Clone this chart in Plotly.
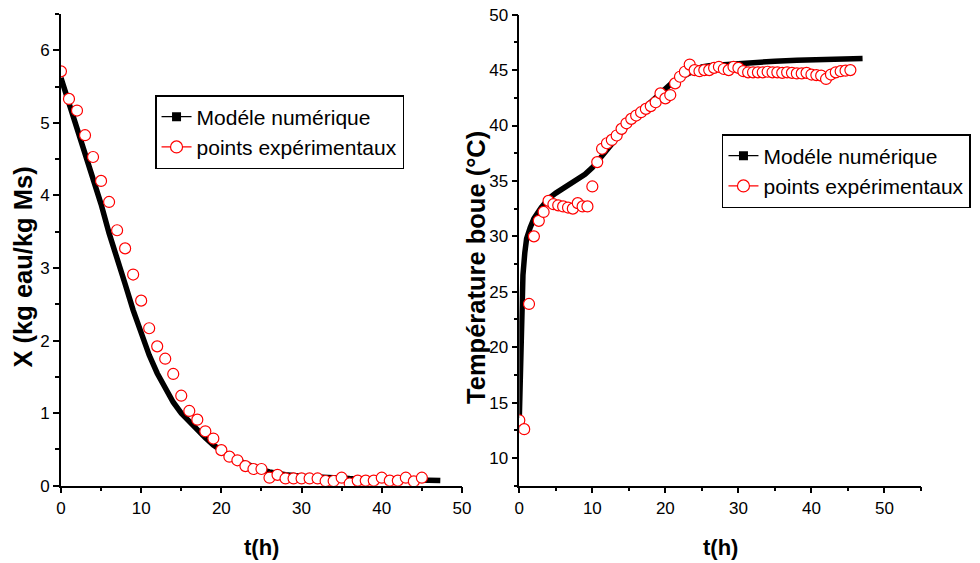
import plotly.graph_objects as go

# ---------------- data ----------------
# Left panel: moisture content X (kg eau / kg Ms) vs t (h)
t_model_X = [0, 1, 2, 3, 4, 5, 6, 7, 8, 9, 10, 11, 12, 13, 14, 15, 16, 17, 18, 19,
             20, 21, 22, 23, 24, 25, 26, 28, 30, 33, 36, 40, 44, 47.3]
X_model = [5.62, 5.28, 4.93, 4.58, 4.24, 3.88, 3.48, 3.10, 2.78, 2.42, 2.08, 1.80, 1.55,
           1.33, 1.15, 1.00, 0.88, 0.76, 0.66, 0.56, 0.48, 0.41, 0.35, 0.30, 0.26, 0.22,
           0.19, 0.15, 0.13, 0.11, 0.10, 0.09, 0.08, 0.07]

t_exp_X = [0, 1, 2, 3, 4, 5, 6, 7, 8, 9, 10, 11, 12, 13, 14, 15, 16, 17, 18, 19, 20, 21,
           22, 23, 24, 25, 26, 27, 28, 29, 30, 31, 32, 33, 34, 35, 36, 37, 38, 39, 40, 41,
           42, 43, 44, 45]
X_exp = [5.71, 5.33, 5.17, 4.83, 4.53, 4.20, 3.91, 3.52, 3.27, 2.91, 2.55, 2.17, 1.92,
         1.75, 1.54, 1.24, 1.03, 0.91, 0.75, 0.65, 0.49, 0.40, 0.35, 0.27, 0.23, 0.23,
         0.11, 0.15, 0.10, 0.10, 0.10, 0.10, 0.10, 0.065, 0.065, 0.11, 0.03, 0.07, 0.07,
         0.07, 0.11, 0.07, 0.07, 0.11, 0.06, 0.11]

# Right panel: mud temperature (°C) vs t (h)
t_model_T = [0, 0.1, 0.2, 0.35, 0.5, 0.75, 1.0, 1.5, 2, 3, 4, 5, 6, 7, 8, 9, 10, 11, 12,
             13, 14, 15, 16, 17, 18, 19, 20, 21, 22, 23, 24, 25, 26, 28, 30, 32, 35, 38,
             40, 43, 47]
T_model = [13.6, 17.0, 20.0, 24.0, 26.5, 28.5, 29.8, 30.8, 31.6, 32.6, 33.4, 33.9, 34.3,
           34.7, 35.1, 35.6, 36.2, 37.0, 37.9, 38.7, 39.5, 40.2, 40.9, 41.5, 42.1, 42.8,
           43.4, 43.9, 44.3, 44.6, 45.0, 45.3, 45.4, 45.5, 45.65, 45.75, 45.8, 45.9,
           45.95, 46.0, 46.05]

t_exp_T = [0, 0.67, 1.33, 2.0, 2.67, 3.33, 4.0, 4.67, 5.33, 6.0, 6.67, 7.33, 8.0, 8.67,
           9.33, 10.0, 10.67, 11.33, 12.0, 12.67, 13.33, 14.0, 14.67, 15.33, 16.0, 16.67,
           17.33, 18.0, 18.67, 19.33, 20.0, 20.67, 21.33, 22.0, 22.67, 23.33, 24.0, 24.67,
           25.33, 26.0, 26.67, 27.33, 28.0, 28.67, 29.33, 30.0, 30.67, 31.33, 32.0, 32.67,
           33.33, 34.0, 34.67, 35.33, 36.0, 36.67, 37.33, 38.0, 38.67, 39.33, 40.0, 40.67,
           41.33, 42.0, 42.67, 43.33, 44.0, 44.67, 45.33]
T_exp = [13.4, 12.6, 23.9, 30.0, 31.4, 32.2, 33.2, 32.9, 32.8, 32.7, 32.6, 32.5, 33.0,
         32.7, 32.7, 34.5, 36.7, 37.9, 38.4, 38.7, 39.1, 39.7, 40.2, 40.6, 40.9, 41.2,
         41.5, 41.75, 42.1, 42.9, 42.45, 42.75, 43.8, 44.4, 44.85, 45.5, 45.0, 44.9, 45.0,
         45.0, 45.2, 45.3, 45.1, 45.0, 45.3, 45.2, 44.9, 44.8, 44.8, 44.8, 44.8, 44.85,
         44.8, 44.8, 44.75, 44.8, 44.75, 44.7, 44.7, 44.75, 44.6, 44.55, 44.5, 44.2, 44.6,
         44.8, 44.9, 44.95, 45.0]

name_model = "Modéle numérique"
name_exp = "points expérimentaux"

# ---------------- figure ----------------
RED = "#ff0000"
BLACK = "#000000"
TICKFONT = dict(family="Liberation Sans Narrow, Arial Narrow, Liberation Sans, Arial", size=17, color=BLACK)
LEGFONT = dict(family="Liberation Sans, Arial", size=21, color=BLACK)

fig = go.Figure()

for xs, ys, xa, ya in [(t_model_X, X_model, "x", "y"), (t_model_T, T_model, "x2", "y2")]:
    fig.add_trace(go.Scatter(x=xs, y=ys, xaxis=xa, yaxis=ya, mode="lines",
                             line=dict(color=BLACK, width=5.5), showlegend=False,
                             hoverinfo="skip"))

for xs, ys, xa, ya in [(t_exp_X, X_exp, "x", "y"), (t_exp_T, T_exp, "x2", "y2")]:
    fig.add_trace(go.Scatter(x=xs, y=ys, xaxis=xa, yaxis=ya, mode="markers",
                             marker=dict(symbol="circle", size=11, color="white",
                                         line=dict(color=RED, width=1.2)),
                             showlegend=False))

# legend entries (thin line + marker, as in the original key)
for xa, ya, leg in [("x", "y", "legend"), ("x2", "y2", "legend2")]:
    fig.add_trace(go.Scatter(x=[None], y=[None], xaxis=xa, yaxis=ya, mode="lines+markers",
                             name=name_model, legend=leg,
                             line=dict(color=BLACK, width=1.3),
                             marker=dict(symbol="square", size=9, color=BLACK)))
    fig.add_trace(go.Scatter(x=[None], y=[None], xaxis=xa, yaxis=ya, mode="lines+markers",
                             name=name_exp, legend=leg,
                             line=dict(color=RED, width=1.3),
                             marker=dict(symbol="circle", size=12, color="white",
                                         line=dict(color=RED, width=1.2))))

axis_common = dict(showline=True, linecolor=BLACK, linewidth=1.5, showgrid=False,
                   zeroline=False, ticks="outside", ticklen=6, tickwidth=1.5,
                   tickcolor=BLACK, tickfont=TICKFONT, mirror=False, automargin=False,
                   minor=dict(ticks="outside", ticklen=4, tickwidth=1.5, tickcolor=BLACK,
                              showgrid=False))

fig.update_layout(
    width=980, height=563, autosize=False,
    margin=dict(l=0, r=0, t=0, b=0, autoexpand=False),
    paper_bgcolor="white", plot_bgcolor="white",
    xaxis=dict(domain=[0.0622, 0.4714], range=[0, 50], tick0=0, dtick=10,
               anchor="y", **axis_common),
    yaxis=dict(domain=[0.1373, 0.9751], range=[0, 6.5], tick0=0, dtick=1,
               anchor="x", **axis_common),
    xaxis2=dict(domain=[0.5299, 0.9398], range=[0, 55], tick0=0, dtick=10,
                anchor="y2", **axis_common),
    yaxis2=dict(domain=[0.1373, 0.9739], range=[7.5, 50], tick0=10, dtick=5,
                anchor="x2", **axis_common),
    legend=dict(x=0.1582, y=1 - 95 / 563, xanchor="left", yanchor="top",
                bordercolor=BLACK, borderwidth=1.5, bgcolor="white",
                font=LEGFONT, tracegroupgap=0, itemwidth=30),
    legend2=dict(x=0.7367, y=1 - 134 / 563, xanchor="left", yanchor="top",
                 bordercolor=BLACK, borderwidth=1.5, bgcolor="white",
                 font=LEGFONT, tracegroupgap=0, itemwidth=30),
)
fig.update_layout(xaxis=dict(minor=dict(dtick=5)), xaxis2=dict(minor=dict(dtick=5)),
                  yaxis=dict(minor=dict(dtick=0.5)), yaxis2=dict(minor=dict(dtick=2.5)))

TITLEFONT = dict(family="Liberation Sans, Arial", size=25.5, color=BLACK)
fig.add_annotation(text="<b>X (kg eau/kg Ms)</b>", xref="paper", yref="paper",
                   x=0.0225, y=1 - 267.5 / 563, textangle=-90, showarrow=False, font=TITLEFONT,
                   xanchor="center", yanchor="middle")
fig.add_annotation(text="<b>Température boue (°C)</b>", xref="paper", yref="paper",
                   x=0.4857, y=1 - 267 / 563, textangle=-90, showarrow=False, font=TITLEFONT,
                   xanchor="center", yanchor="middle")
fig.add_annotation(text="<b>t(h)</b>", xref="paper", yref="paper", x=0.2673, y=1 - 547 / 563,
                   showarrow=False, font=dict(family="Liberation Sans, Arial", size=22, color=BLACK),
                   xanchor="center", yanchor="middle")
fig.add_annotation(text="<b>t(h)</b>", xref="paper", yref="paper", x=0.7347, y=1 - 547 / 563,
                   showarrow=False, font=dict(family="Liberation Sans, Arial", size=22, color=BLACK),
                   xanchor="center", yanchor="middle")

fig.write_html("out.html")
